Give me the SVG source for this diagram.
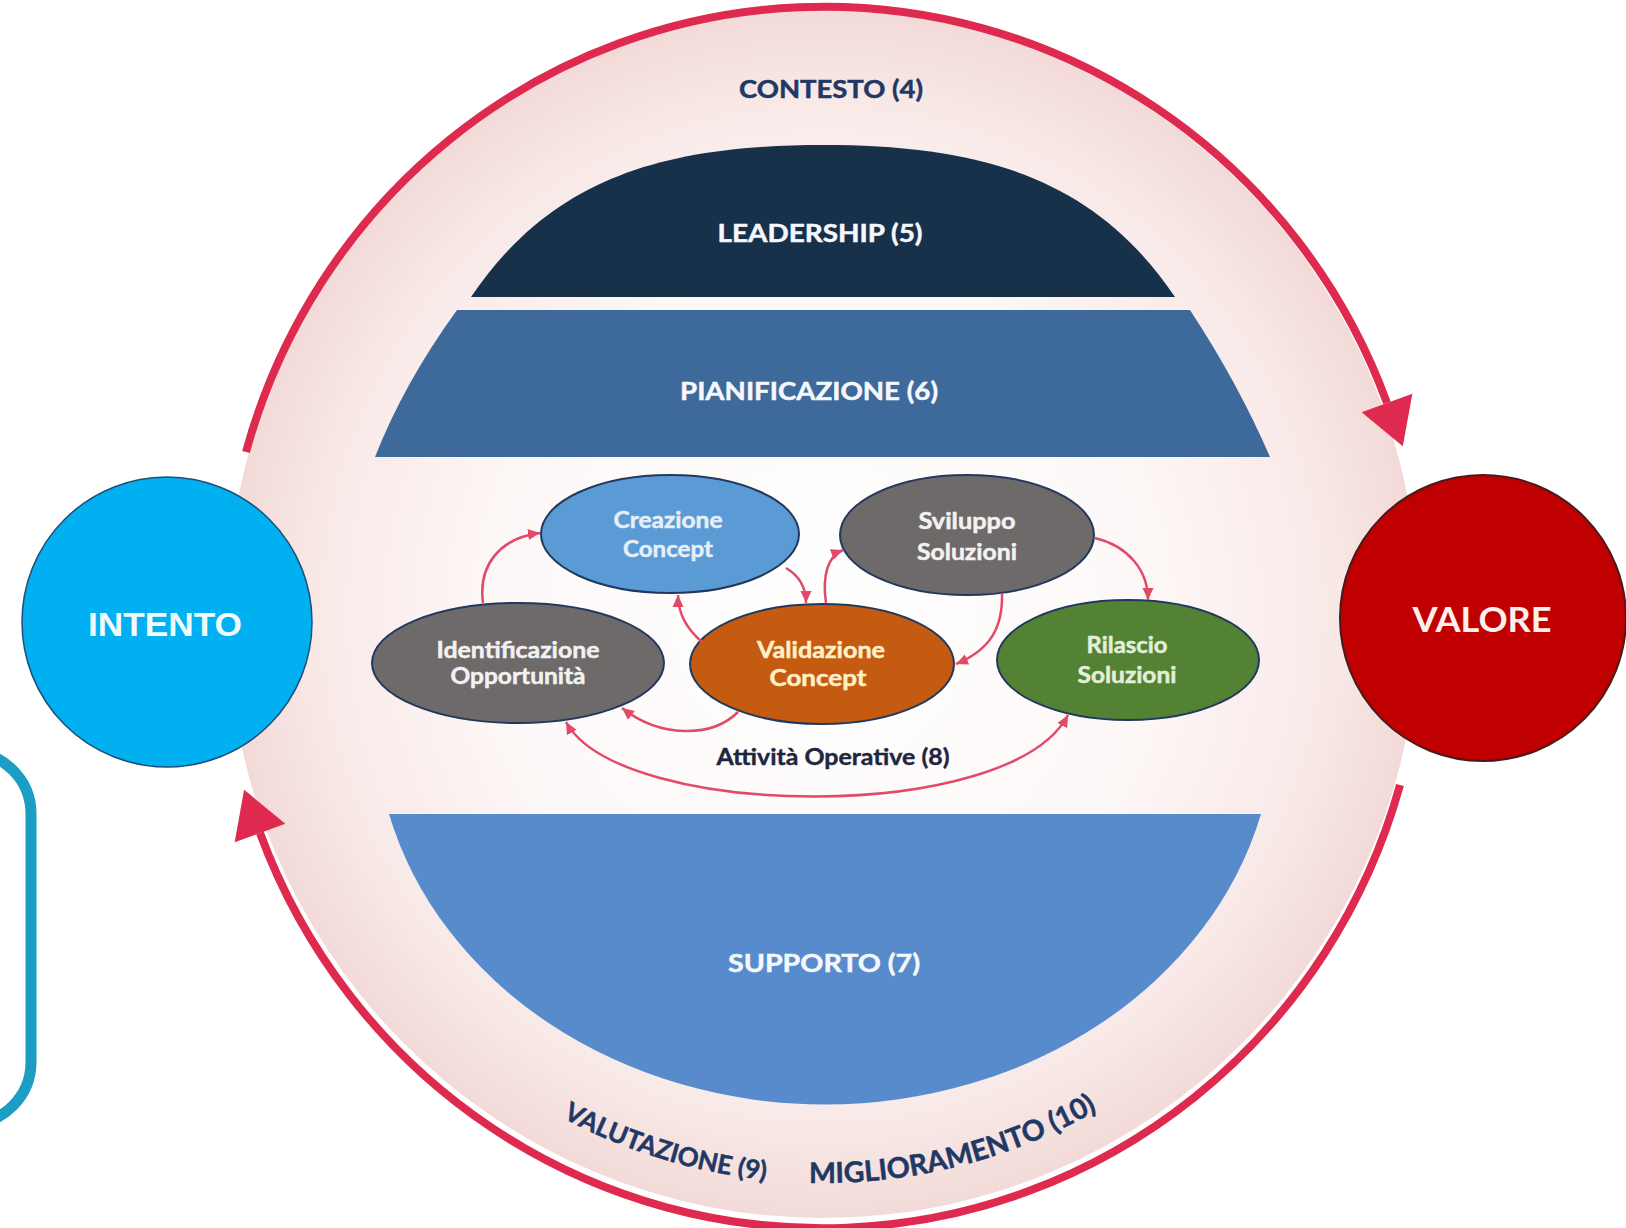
<svg xmlns="http://www.w3.org/2000/svg" width="1626" height="1228" viewBox="0 0 1626 1228">
<style>
.lbl{font-family:Lato,"Liberation Sans",sans-serif;font-weight:700;text-anchor:middle}
.band{font-size:25px;fill:#F4F7FB;stroke:#F4F7FB;stroke-width:0.5}
.node{font-size:23px;stroke-width:0.5}
.ring{fill:none;stroke:#DE2A4E;stroke-width:8;marker-end:url(#bigArrow)}
.conn{fill:none;stroke:#E24A68;stroke-width:2.5;marker-end:url(#smallArrow)}
.ell{stroke:#22395E;stroke-width:2}
.curved{font-family:Lato,"Liberation Sans",sans-serif;font-weight:700;fill:#1F3864;stroke:#1F3864;stroke-width:0.5}
</style>
<defs>
<radialGradient id="disc" cx="50%" cy="50%" r="50%">
<stop offset="0" stop-color="#ffffff"/>
<stop offset="0.55" stop-color="#fdf8f7"/>
<stop offset="0.85" stop-color="#f8e9e7"/>
<stop offset="1" stop-color="#f2dad8"/>
</radialGradient>
<marker id="bigArrow" markerUnits="userSpaceOnUse" markerWidth="60" markerHeight="60" viewBox="-5 -30 60 60" refX="0" refY="0" orient="auto">
<path d="M0,-27 L46,0 L0,27 Z" fill="#DE2A4E"/>
</marker>
<marker id="smallArrow" markerUnits="userSpaceOnUse" markerWidth="14" markerHeight="14" viewBox="0 -7 14 14" refX="12" refY="0" orient="auto-start-reverse">
<path d="M0,-5.5 L12,0 L0,5.5 Z" fill="#E24A68"/>
</marker>
<path id="arcText" d="M526.3,1096.7 A560 568 0 0 0 1136.2,1085.9"/>
</defs>
<rect width="1626" height="1228" fill="#ffffff"/>

<g id="ring-disc">
<ellipse cx="823" cy="614" rx="596" ry="604" fill="url(#disc)"/>
</g>

<g id="contesto">
<text class="lbl" x="831" y="98" font-size="25" fill="#1F3864" stroke="#1F3864" stroke-width="0.5" textLength="184" lengthAdjust="spacingAndGlyphs">CONTESTO (4)</text>
</g>

<g id="leadership">
<path d="M471,297 C550,180 660,145 823,145 C986,145 1096,180 1175,297 Z" fill="#163149"/>
<text class="lbl band" x="820" y="242" textLength="205" lengthAdjust="spacingAndGlyphs">LEADERSHIP (5)</text>
</g>

<g id="pianificazione">
<path d="M457,310 L1190,310 Q1238,383 1270,457 L375,457 Q404,383 457,310 Z" fill="#3E699B"/>
<text class="lbl band" x="809" y="400" textLength="258" lengthAdjust="spacingAndGlyphs">PIANIFICAZIONE (6)</text>
</g>

<g id="supporto">
<path d="M389,814 A450 386 0 0 0 1261,814 Z" fill="#588BCB"/>
<text class="lbl band" x="824" y="972" textLength="192" lengthAdjust="spacingAndGlyphs">SUPPORTO (7)</text>
</g>

<g id="valutazione-miglioramento">
<text class="curved" font-size="26"><textPath href="#arcText" startOffset="42">VALUTAZIONE (9)</textPath></text>
<text class="curved" font-size="28.5"><textPath href="#arcText" startOffset="299">MIGLIORAMENTO (10)</textPath></text>
</g>

<g id="ring-arrows">
<path class="ring" d="M246,452 A600 607 0 0 1 1387,403"/>
<path class="ring" d="M1400,785 A600 607 0 0 1 260,833"/>
</g>

<g id="side-box">
<rect x="-200" y="752" width="231" height="372" rx="62" ry="62" fill="none" stroke="#1B9DC4" stroke-width="11"/>
</g>

<g id="intento">
<circle cx="167" cy="622" r="145" fill="#00B0F0" stroke="#1F4E79" stroke-width="1.5"/>
<text x="165" y="636" font-family="'Liberation Sans',Arial,sans-serif" font-weight="700" font-size="34" fill="#F2FAFE" text-anchor="middle" textLength="154" lengthAdjust="spacingAndGlyphs">INTENTO</text>
</g>

<g id="valore">
<circle cx="1483" cy="618" r="143" fill="#C00000" stroke="#4A1A1A" stroke-width="2"/>
<text class="lbl" x="1482" y="632" font-size="34" fill="#FBF0EE" textLength="139" lengthAdjust="spacingAndGlyphs">VALORE</text>
</g>

<g id="creazione-concept">
<ellipse class="ell" cx="670" cy="534" rx="129" ry="59" fill="#5B9BD5"/>
<text class="lbl node" x="668" y="528" fill="#E6EEF8" stroke="#E6EEF8" textLength="109" lengthAdjust="spacingAndGlyphs">Creazione</text>
<text class="lbl node" x="668" y="557" fill="#E6EEF8" stroke="#E6EEF8" textLength="90" lengthAdjust="spacingAndGlyphs">Concept</text>
</g>

<g id="sviluppo-soluzioni">
<ellipse class="ell" cx="967" cy="535" rx="127" ry="60" fill="#6E6A6A"/>
<text class="lbl node" x="967" y="529" fill="#F2F2F2" stroke="#F2F2F2" textLength="97" lengthAdjust="spacingAndGlyphs">Sviluppo</text>
<text class="lbl node" x="967" y="560" fill="#F2F2F2" stroke="#F2F2F2" textLength="100" lengthAdjust="spacingAndGlyphs">Soluzioni</text>
</g>

<g id="identificazione-opportunita">
<ellipse class="ell" cx="518" cy="663" rx="146" ry="60" fill="#6E6A6A"/>
<text class="lbl node" x="518" y="658" fill="#F2F2F2" stroke="#F2F2F2" textLength="163" lengthAdjust="spacingAndGlyphs">Identificazione</text>
<text class="lbl node" x="518" y="684" fill="#F2F2F2" stroke="#F2F2F2" textLength="135" lengthAdjust="spacingAndGlyphs">Opportunità</text>
</g>

<g id="validazione-concept">
<ellipse class="ell" cx="822" cy="664" rx="132" ry="60" fill="#C55A11"/>
<text class="lbl node" x="821" y="658" fill="#FFF0C8" stroke="#FFF0C8" textLength="128" lengthAdjust="spacingAndGlyphs">Validazione</text>
<text class="lbl node" x="818" y="686" fill="#FFF0C8" stroke="#FFF0C8" textLength="97" lengthAdjust="spacingAndGlyphs">Concept</text>
</g>

<g id="rilascio-soluzioni">
<ellipse class="ell" cx="1128" cy="660" rx="131" ry="60" fill="#548235"/>
<text class="lbl node" x="1127" y="653" fill="#E2F0D9" stroke="#E2F0D9" textLength="81" lengthAdjust="spacingAndGlyphs">Rilascio</text>
<text class="lbl node" x="1127" y="683" fill="#E2F0D9" stroke="#E2F0D9" textLength="99" lengthAdjust="spacingAndGlyphs">Soluzioni</text>
</g>

<g id="connectors">
<path class="conn" d="M483,603 C478,565 500,538 540,533"/>
<path class="conn" d="M786,568 C798,575 806,585 806,603"/>
<path class="conn" d="M702,642 C688,630 678,615 678,595"/>
<path class="conn" d="M826,603 C822,575 828,556 843,550"/>
<path class="conn" d="M738,712 C712,738 660,738 622,708"/>
<path class="conn" style="marker-start:url(#smallArrow)" d="M566,722 C620,820 1010,825 1068,715"/>
<path class="conn" d="M1095,538 C1128,546 1148,570 1148,600"/>
<path class="conn" d="M1002,593 C1003,628 990,650 956,664"/>
</g>

<g id="attivita-operative">
<text class="lbl" x="833" y="765" font-size="22" fill="#1E2640" stroke="#1E2640" stroke-width="0.4" textLength="233" lengthAdjust="spacingAndGlyphs">Attività Operative (8)</text>
</g>
</svg>
